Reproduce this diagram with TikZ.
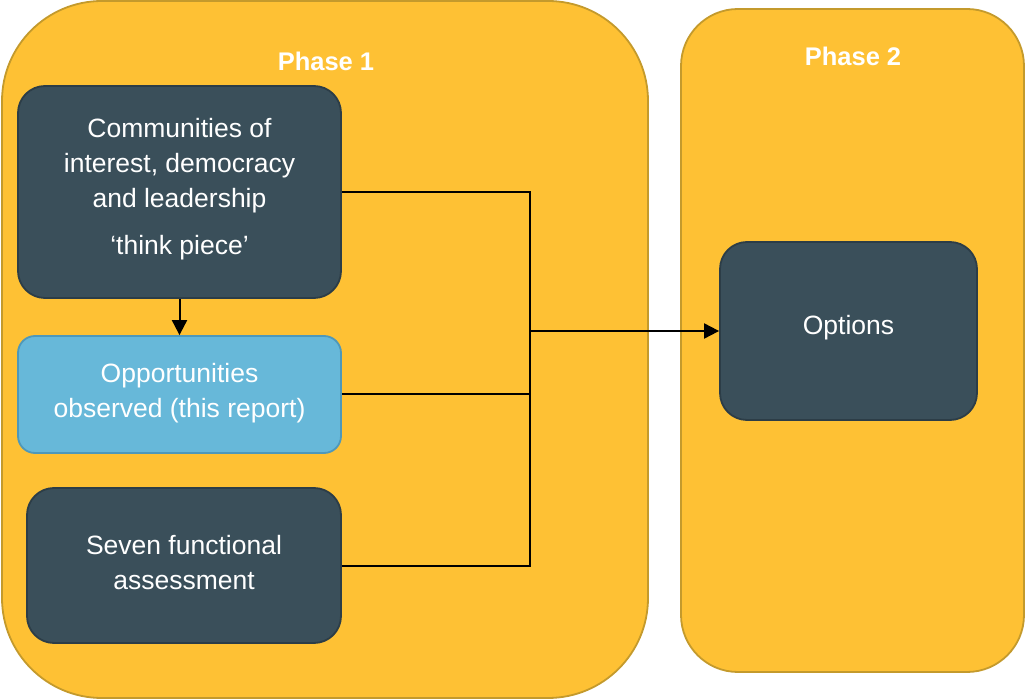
\documentclass[tikz,border=0pt]{standalone}
\usepackage{fontspec}
\setmainfont{Liberation Sans}
\usetikzlibrary{arrows.meta}
\definecolor{phasefill}{HTML}{FEC134}
\definecolor{phaseedge}{HTML}{C49A2C}
\definecolor{darkbox}{HTML}{3A4F5A}
\definecolor{darkedge}{HTML}{2C3D47}
\definecolor{lightbox}{HTML}{67B8D9}
\definecolor{lightedge}{HTML}{4E98BA}
\tikzset{
  phase/.style={draw=phaseedge, fill=phasefill, line width=1.8pt, rectangle, inner sep=0pt},
  darkstep/.style={draw=darkedge, fill=darkbox, line width=1.8pt, rectangle, inner sep=0pt, rounded corners=27pt, text=white, align=center, font=\fontsize{26.5}{35}\selectfont},
  lightstep/.style={draw=lightedge, fill=lightbox, line width=1.8pt, rectangle, inner sep=0pt, rounded corners=17pt, text=white, align=center, font=\fontsize{26.5}{35}\selectfont},
  boxtext/.style={text=white, align=center, font=\fontsize{26.5}{35}\selectfont, inner sep=0pt},
  phaselabel/.style={text=white, font=\bfseries\fontsize{25.5}{30}\selectfont, inner sep=0pt},
  conn/.style={line width=2pt, black},
  arr/.style={conn, -{Triangle[length=15pt,width=15pt]}}
}
\begin{document}
\begin{tikzpicture}[x=1pt,y=-1pt]
\useasboundingbox (0,0) rectangle (1026,700);
% phase containers
\node[phase, rounded corners=100pt, minimum width=646pt, minimum height=697pt] (p1) at (325,349.5) {};
\node[phase, rounded corners=57pt, minimum width=343pt, minimum height=663pt] (p2) at (852.5,340.5) {};
\node[phaselabel] (p1l) at (326,61) {Phase 1};
\node[phaselabel] (p2l) at (853,56) {Phase 2};
% boxes
\node[darkstep, minimum width=323pt, minimum height=212pt] (b1) at (179.5,192) {};
\node[boxtext] (b1t) at (179.5,166) {Communities of\\interest, democracy\\and leadership};
\node[boxtext] (b1q) at (179.5,248) {‘think piece’};
\node[lightstep, minimum width=323pt, minimum height=117pt] (b2) at (179.5,394.5) {};
\node[boxtext] (b2t) at (179.5,393) {Opportunities\\observed (this report)};
\node[darkstep, minimum width=314pt, minimum height=155pt] (b3) at (184,565.5) {};
\node[boxtext] (b3t) at (184,563) {Seven functional\\assessment};
\node[darkstep, minimum width=257pt, minimum height=178pt] (opt) at (848.5,331) {};
\node[boxtext] (optt) at (848.5,328) {Options};
% connectors
\coordinate (j) at (530,331);
\draw[arr] (b1.south) -- (b2.north);
\draw[conn] (b1.east) -| (j);
\draw[conn] (b2.east) -| (j);
\draw[conn] (b3.east) -| (j);
\draw[arr] (j) -- (opt.west);
\end{tikzpicture}
\end{document}
